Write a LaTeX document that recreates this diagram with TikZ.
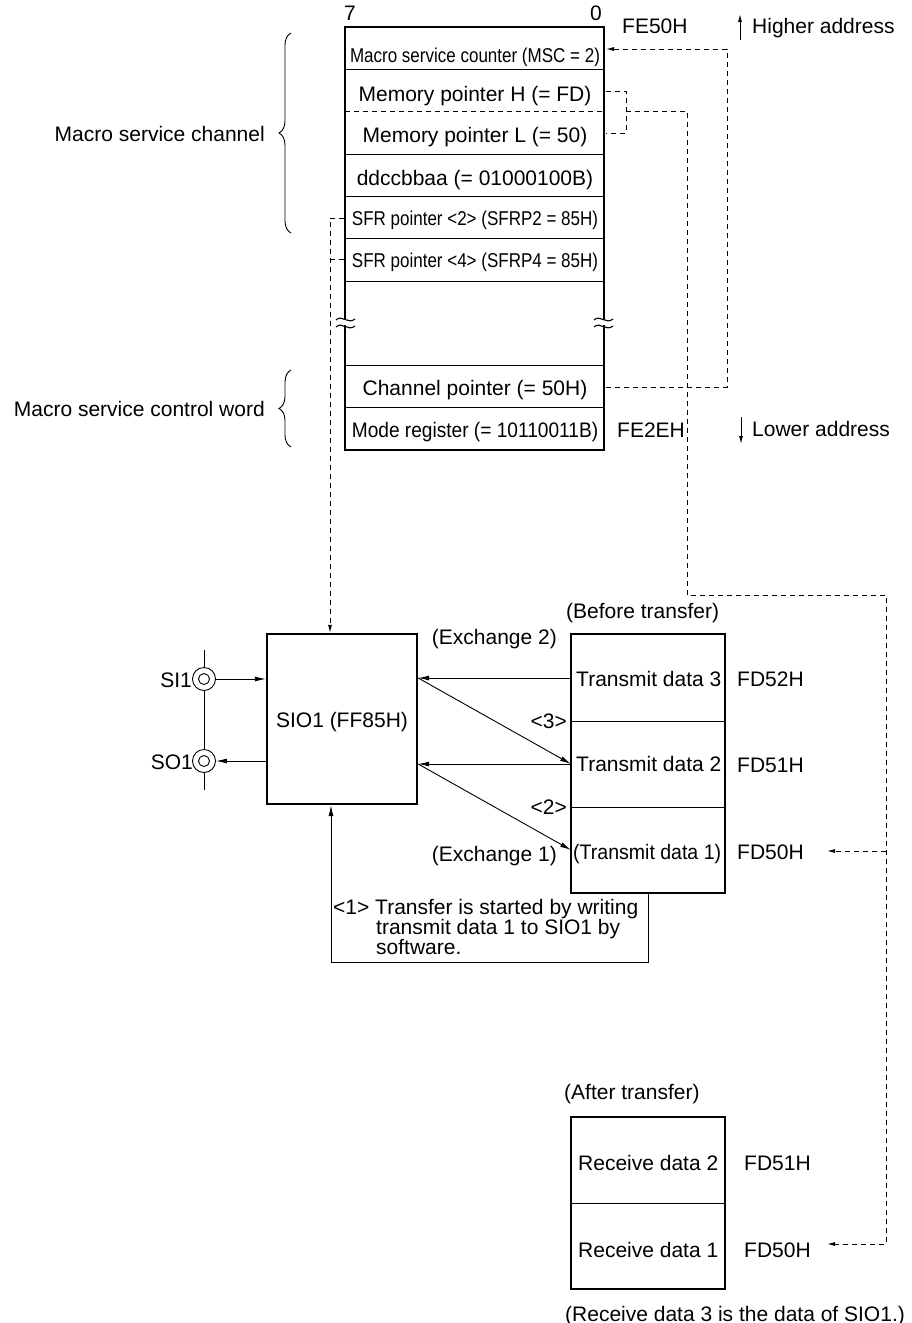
\documentclass[tikz,border=0pt]{standalone}
\usepackage{fontspec}
\setmainfont{Liberation Sans}
\usetikzlibrary{arrows.meta,decorations.pathreplacing}
\newcommand\fsN{\fontsize{21}{20}\selectfont}
\newcommand\fsS{\fontsize{20}{20}\selectfont}
\begin{document}
\begin{tikzpicture}[x=1pt,y=-1pt,
  txt/.style={inner sep=0pt, font=\fsN},
  thinl/.style={line width=0.9pt},
  thickl/.style={line width=2.6pt},
  boxl/.style={draw, line width=2.4pt, inner sep=0pt},
  dashl/.style={line width=0.9pt, dash pattern=on 5pt off 4pt},
  arr/.style={-{Latex[length=11pt,width=5pt]}},
  darr/.style={-{Latex[length=8pt,width=4pt]}},
  sarr/.style={-{Latex[length=8pt,width=4pt]}},
]
\fill[white] (0,0) rectangle (911,1323);
\useasboundingbox (0,0) rectangle (911,1323);

% ---------- register block ----------
\draw[thickl] (345,320) -- (345,27) -- (604,27) -- (604,320);
\draw[thickl] (345,325) -- (345,450) -- (604,450) -- (604,325);
\foreach \yy in {69,154,196,238,281,365,407} \draw[thinl] (345,\yy) -- (604,\yy);
\draw[dashl] (345,111) -- (604,111);
% break marks
\draw[line width=1.1pt] (336,320) .. controls (342,314) and (348,325) .. (355,319);
\draw[line width=1.1pt] (336,327) .. controls (342,321) and (348,332) .. (355,326);
\draw[line width=1.1pt] (594,320) .. controls (600,314) and (606,325) .. (613,319);
\draw[line width=1.1pt] (594,327) .. controls (600,321) and (606,332) .. (613,326);

\node[txt, anchor=base] (bit7) at (350,20) {7};
\node[txt, anchor=base] (bit0) at (596,20) {0};
\node[txt, anchor=base west] (fe50) at (622,33) {FE50H};
\node[txt, anchor=base west] (fe2e) at (617,437) {FE2EH};

\node[txt, anchor=base] (msc) at (475,62) {\scalebox{0.85}[1]{\fsS Macro service counter (MSC = 2)}};
\node[txt, anchor=base] (mph) at (475,101) {Memory pointer H (= FD)};
\node[txt, anchor=base] (mpl) at (475,142) {Memory pointer L (= 50)};
\node[txt, anchor=base] (ddc) at (475,185.5) {ddccbbaa (= 01000100B)};
\node[txt, anchor=base] (sfrA) at (475,225) {\scalebox{0.85}[1]{\fsS SFR pointer <2> (SFRP2 = 85H)}};
\node[txt, anchor=base] (sfrB) at (475,267) {\scalebox{0.85}[1]{\fsS SFR pointer <4> (SFRP4 = 85H)}};
\node[txt, anchor=base] (chp) at (475,395) {Channel pointer (= 50H)};
\node[txt, anchor=base] (mode) at (475,437.5) {\scalebox{0.91}[1]{Mode register (= 10110011B)}};

% address direction
\coordinate (hiT) at (740,40);
\coordinate (hiH) at (740,14);
\draw[thinl, sarr] (hiT) -- (hiH);
\node[txt, anchor=base west] (hi) at (752,33) {Higher address};
\coordinate (loT) at (741,417);
\coordinate (loH) at (741,444);
\draw[thinl, sarr] (loT) -- (loH);
\node[txt, anchor=base west] (lo) at (752,436.5) {Lower address};

% braces
\draw[thinl, decorate, decoration={brace, amplitude=12pt}] (291,233) -- (291,33);
\draw[thinl, decorate, decoration={brace, amplitude=12pt}] (291,447) -- (291,370);
\node[txt, anchor=base east] (msch) at (265,141) {Macro service channel};
\node[txt, anchor=base east] (mscw) at (265,416.5) {Macro service control word};

% ---------- dashed pointers ----------
\coordinate (mscR) at (606,49);
\coordinate (mphR) at (606,91);
\coordinate (mplR) at (606,133);
\coordinate (chpR) at (606,387);
\coordinate (sfrAL) at (344,218);
\coordinate (sfrBL) at (344,259);
\draw[dashl, darr] (chpR) -- (727,387) -- (727,49) -- (mscR);
\draw[dashl] (mphR) -- (626,91) -- (626,133) -- (mplR);

% ---------- SIO1 ----------
\node[boxl, minimum width=150pt, minimum height=170pt] (sio) at (342,719) {};
\node[txt, anchor=base] (siot) at (342,727.5) {SIO1 (FF85H)};
\coordinate (sfrV) at (330,218);
\draw[dashl, darr] (sfrAL) -- (sfrV) -- (sfrV |- sio.north);
\draw[dashl] (sfrBL) -- (330,259);

\node[draw, circle, thinl, minimum size=23pt, inner sep=0pt] (si1) at (204,679) {};
\node[draw, circle, thinl, minimum size=11pt, inner sep=0pt] (si1i) at (204,679) {};
\node[draw, circle, thinl, minimum size=23pt, inner sep=0pt] (so1) at (204,761) {};
\node[draw, circle, thinl, minimum size=11pt, inner sep=0pt] (so1i) at (204,761) {};
\node[txt, anchor=base east] (si1l) at (192,687) {SI1};
\node[txt, anchor=base east] (so1l) at (193,769.5) {SO1};
\coordinate (pinTop) at (204,650);
\coordinate (pinBot) at (204,790);
\draw[thinl] (pinTop) -- (si1.north);
\draw[thinl] (si1.south) -- (so1.north);
\draw[thinl] (so1.south) -- (pinBot);
\draw[thinl, arr] (si1.east) -- (sio.west |- si1.east);
\draw[thinl, arr] (sio.west |- so1.east) -- (so1.east);

% ---------- transmit buffer ----------
\node[boxl, minimum width=154pt, minimum height=259pt] (tx) at (648,763.5) {};
\draw[thinl] (571,721) -- (725,721);
\draw[thinl] (571,807) -- (725,807);
\node[txt, anchor=base west] (before) at (566,618) {(Before transfer)};
\node[txt, anchor=base west] (t3) at (576,686) {Transmit data 3};
\node[txt, anchor=base west] (t2) at (576,771) {Transmit data 2};
\node[txt, anchor=base west] (t1) at (573,859.5) {\scalebox{0.93}[1]{(Transmit data 1)}};
\node[txt, anchor=base west] (a52) at (737,686.5) {FD52H};
\node[txt, anchor=base west] (a51) at (737,772) {FD51H};
\node[txt, anchor=base west] (a50) at (737,859.5) {FD50H};
\node[txt, anchor=base east] (s3) at (567,728) {<3>};
\node[txt, anchor=base east] (s2) at (567,814.5) {<2>};
\node[txt, anchor=base east] (ex2) at (557,644) {(Exchange 2)};
\node[txt, anchor=base east] (ex1) at (557,861) {(Exchange 1)};

\coordinate (t3L) at (571,678);
\coordinate (t2L) at (571,764);
\coordinate (t1L) at (571,850);
\draw[thinl, arr] (t3L) -- (sio.east |- t3L);
\draw[thinl, arr] (sio.east |- t3L) -- (t2L);
\draw[thinl, arr] (t2L) -- (sio.east |- t2L);
\draw[thinl, arr] (sio.east |- t2L) -- (t1L);

% start of transfer
\coordinate (startB) at (331,962);
\draw[thinl, arr] (tx.south) |- (startB) -- (startB |- sio.south);
\node[txt, anchor=base west] (noteA) at (333,914.5) {<1> Transfer is started by writing};
\node[txt, anchor=base west] (noteB) at (376,934.5) {transmit data 1 to SIO1 by};
\node[txt, anchor=base west] (noteC) at (376,954) {software.};

% ---------- receive buffer ----------
\node[boxl, minimum width=154pt, minimum height=172pt] (rx) at (648,1203) {};
\draw[thinl] (571,1203) -- (725,1203);
\node[txt, anchor=base west] (after) at (564,1099) {(After transfer)};
\node[txt, anchor=base west] (r2) at (578,1170.5) {Receive data 2};
\node[txt, anchor=base west] (r1) at (578,1257.5) {Receive data 1};
\node[txt, anchor=base west] (b51) at (744,1170.5) {FD51H};
\node[txt, anchor=base west] (b50) at (744,1257.5) {FD50H};
\node[txt, anchor=base west] (rnote) at (565,1321) {(Receive data 3 is the data of SIO1.)};

% memory pointer to FD50H
\coordinate (txPtr) at (827,851);
\coordinate (rxPtr) at (827,1244);
\draw[dashl, darr] (626,111) -- (687,111) -- (687,595) -- (886,595) -- (886,1244) -- (rxPtr);
\draw[dashl, darr] (886,851) -- (txPtr);
\end{tikzpicture}
\end{document}
